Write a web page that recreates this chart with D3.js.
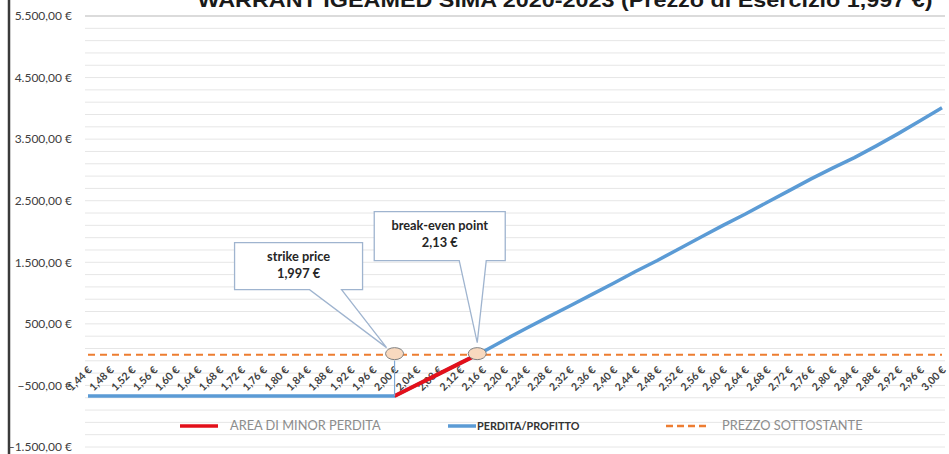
<!DOCTYPE html>
<html>
<head>
<meta charset="utf-8">
<script src="https://d3js.org/d3.v7.min.js"></script>
<style>
  body { margin: 0; background: #fff; }
  svg { display: block; font-family: Lato, "Open Sans", sans-serif; }
</style>
</head>
<body>
<div id="chart"></div>
<script>
// categories (prezzo del sottostante)
var priceLabels = ["1,44 €", "1,48 €", "1,52 €", "1,56 €", "1,60 €", "1,64 €", "1,68 €", "1,72 €",
  "1,76 €", "1,80 €", "1,84 €", "1,88 €", "1,92 €", "1,96 €", "2,00 €", "2,04 €", "2,08 €",
  "2,12 €", "2,16 €", "2,20 €", "2,24 €", "2,28 €", "2,32 €", "2,36 €", "2,40 €", "2,44 €",
  "2,48 €", "2,52 €", "2,56 €", "2,60 €", "2,64 €", "2,68 €", "2,72 €", "2,76 €", "2,80 €",
  "2,84 €", "2,88 €", "2,92 €", "2,96 €", "3,00 €"];

// PERDITA/PROFITTO
var perditaProfitto = [-672, -672, -672, -672, -672, -672, -672, -672, -672, -672, -672, -672,
  -672, -672, -672, -494, -316, -138, 40, 235, 425, 610, 790, 975, 1160, 1350, 1530, 1720,
  1910, 2100, 2280, 2470, 2660, 2850, 3030, 3200, 3390, 3590, 3800, 4010];

// AREA DI MINOR PERDITA
var areaLabels = ["2,00 €", "2,04 €", "2,08 €", "2,12 €", "2,16 €"];
var areaValues = [-672, -494, -316, -138, 40];

// PREZZO SOTTOSTANTE
var prezzoSottostante = [0, 0, 0, 0, 0, 0, 0, 0, 0, 0, 0, 0, 0, 0, 0, 0, 0, 0, 0, 0,
  0, 0, 0, 0, 0, 0, 0, 0, 0, 0, 0, 0, 0, 0, 0, 0, 0, 0, 0, 0];

var yTickValues = [-1500, -500, 500, 1500, 2500, 3500, 4500, 5500];
var yGridStep = 200;

var strikeLabel = "2,00 €";

var svgWidth = 949;
var svgHeight = 454;

var svg = d3.select("#chart")
  .append("svg")
  .attr("width", svgWidth)
  .attr("height", svgHeight);

var xScale = d3.scalePoint()
  .domain(priceLabels)
  .range([88, 942]);

var yScale = d3.scaleLinear()
  .domain([-1500, 5500])
  .range([447, 16]);

var itFormat = d3.formatLocale({
  decimal: ",", thousands: ".", grouping: [3], currency: ["", " €"]
});
var fmtEuro = itFormat.format("$,.2f");

// left frame line
svg.append("line")
  .attr("x1", 9).attr("x2", 9)
  .attr("y1", 0).attr("y2", svgHeight)
  .attr("stroke", "#3a3a3a")
  .attr("stroke-width", 2.5);

// title (cut off at top)
svg.append("text")
  .attr("x", 565)
  .attr("y", 7)
  .attr("text-anchor", "middle")
  .attr("font-family", "Liberation Sans, Arial, sans-serif")
  .attr("font-size", 21)
  .attr("font-weight", "bold")
  .attr("textLength", 735)
  .attr("lengthAdjust", "spacingAndGlyphs")
  .attr("fill", "#1a1a1a")
  .text("WARRANT IGEAMED SIMA 2020-2023 (Prezzo di Esercizio 1,997 €)");

// gridlines
var gridValues = d3.range(-1500, 5500 + 1, yGridStep);
svg.append("g")
  .selectAll("line")
  .data(gridValues)
  .enter()
  .append("line")
  .attr("x1", 85)
  .attr("x2", 945)
  .attr("y1", d => yScale(d))
  .attr("y2", d => yScale(d))
  .attr("stroke", d => d === 5500 ? "#cfcfcf" : "#e6e6e6")
  .attr("stroke-width", d => d === 5500 ? 1.5 : 1);

// y axis labels
var leftAxis = d3.axisLeft(yScale)
  .tickValues(yTickValues)
  .tickFormat(fmtEuro)
  .tickSize(0)
  .tickPadding(0);

var yAxis = svg.append("g")
  .attr("transform", "translate(72,0)")
  .call(leftAxis);
yAxis.select(".domain").remove();
yAxis.selectAll("text")
  .attr("font-family", "Lato, sans-serif")
  .attr("font-size", 12)
  .attr("fill", "#404040");

// orange dashed line
var line = d3.line()
  .defined(d => d[1] !== null)
  .x(d => xScale(d[0]))
  .y(d => yScale(d[1]));

svg.append("path")
  .datum(priceLabels.map((p, i) => [p, prezzoSottostante[i]]))
  .attr("d", line)
  .attr("fill", "none")
  .attr("stroke", "#ED7D31")
  .attr("stroke-width", 2)
  .attr("stroke-dasharray", "7,5");

// x labels (rotated)
svg.append("g")
  .selectAll("text")
  .data(priceLabels)
  .enter()
  .append("text")
  .attr("transform", d => `translate(${xScale(d) + 2}, 368) rotate(-45)`)
  .attr("text-anchor", "end")
  .attr("dy", "0.35em")
  .attr("font-size", 10.5)
  .attr("font-weight", "bold")
  .attr("fill", "#404040")
  .text(d => d);

// blue line
svg.append("path")
  .datum(priceLabels.map((p, i) => [p, perditaProfitto[i]]))
  .attr("d", line)
  .attr("fill", "none")
  .attr("stroke", "#5B9BD5")
  .attr("stroke-width", 3.5)
  .attr("stroke-linejoin", "round");

// red line
svg.append("path")
  .datum(areaLabels.map((p, i) => [p, areaValues[i]]))
  .attr("d", line)
  .attr("fill", "none")
  .attr("stroke", "#E3101A")
  .attr("stroke-width", 4);

// anchors
var strikeX = xScale(strikeLabel);
var y0 = yScale(0);

// break-even: where perdita/profitto crosses zero
var beIdx = perditaProfitto.findIndex(v => v >= 0);
var v1 = perditaProfitto[beIdx - 1], v2 = perditaProfitto[beIdx];
var beX = xScale(priceLabels[beIdx - 1]) + (xScale(priceLabels[beIdx]) - xScale(priceLabels[beIdx - 1])) * (-v1 / (v2 - v1));

// drop line from strike marker
svg.append("line")
  .attr("x1", strikeX).attr("x2", strikeX)
  .attr("y1", y0 + 6)
  .attr("y2", yScale(perditaProfitto[priceLabels.indexOf(strikeLabel)]))
  .attr("stroke", "#7fa9d6")
  .attr("stroke-width", 1.2);

function callout(ax, ay, box, wedge, tip, lines) {
  var l = ax + box[0], r = ax + box[1], t = ay + box[2], b = ay + box[3];
  var p = `M${l},${t}H${r}V${b}H${ax + wedge[1]}L${ax + tip[0]},${ay + tip[1]}L${ax + wedge[0]},${b}H${l}Z`;
  svg.append("path")
    .attr("d", p)
    .attr("fill", "#fff")
    .attr("stroke", "#9fb4cf")
    .attr("stroke-width", 1.3);
  lines.forEach(function(s, i) {
    svg.append("text")
      .attr("x", (l + r) / 2)
      .attr("y", t + 18 + i * 17)
      .attr("text-anchor", "middle")
      .attr("font-size", 12.8)
      .attr("font-weight", "bold")
      .attr("fill", "#262626")
      .text(s);
  });
}

callout(strikeX, y0, [-160, -32, -112, -65], [-85, -53], [-8, -7], ["strike price", "1,997 €"]);
callout(beX, y0, [-103, 28, -143, -94], [-18, 9], [0, -12], ["break-even point", "2,13 €"]);

// markers
[strikeX, beX].forEach(function(cx) {
  svg.append("ellipse")
    .attr("cx", cx)
    .attr("cy", y0 - 1)
    .attr("rx", 9)
    .attr("ry", 6)
    .attr("fill", "#F8D9BF")
    .attr("stroke", "#7f7f7f")
    .attr("stroke-width", 1);
});

// legend
var legendY = 426;
var legend = svg.append("g");

legend.append("line")
  .attr("x1", 180).attr("x2", 218)
  .attr("y1", legendY).attr("y2", legendY)
  .attr("stroke", "#E3101A").attr("stroke-width", 3.5);
legend.append("text")
  .attr("x", 230).attr("y", legendY).attr("dy", "0.35em")
  .attr("font-size", 12.8).attr("fill", "#8c8c8c")
  .text("AREA DI MINOR PERDITA");

legend.append("line")
  .attr("x1", 448).attr("x2", 476)
  .attr("y1", legendY).attr("y2", legendY)
  .attr("stroke", "#5B9BD5").attr("stroke-width", 3.5);
legend.append("text")
  .attr("x", 477).attr("y", legendY).attr("dy", "0.35em")
  .attr("font-size", 10.8).attr("font-weight", "bold").attr("fill", "#333")
  .text("PERDITA/PROFITTO");

legend.append("line")
  .attr("x1", 666).attr("x2", 706)
  .attr("y1", legendY).attr("y2", legendY)
  .attr("stroke", "#ED7D31").attr("stroke-width", 2.5)
  .attr("stroke-dasharray", "7,4");
legend.append("text")
  .attr("x", 722).attr("y", legendY).attr("dy", "0.35em")
  .attr("font-size", 12.8).attr("fill", "#8c8c8c")
  .text("PREZZO SOTTOSTANTE");
</script>
</body>
</html>
